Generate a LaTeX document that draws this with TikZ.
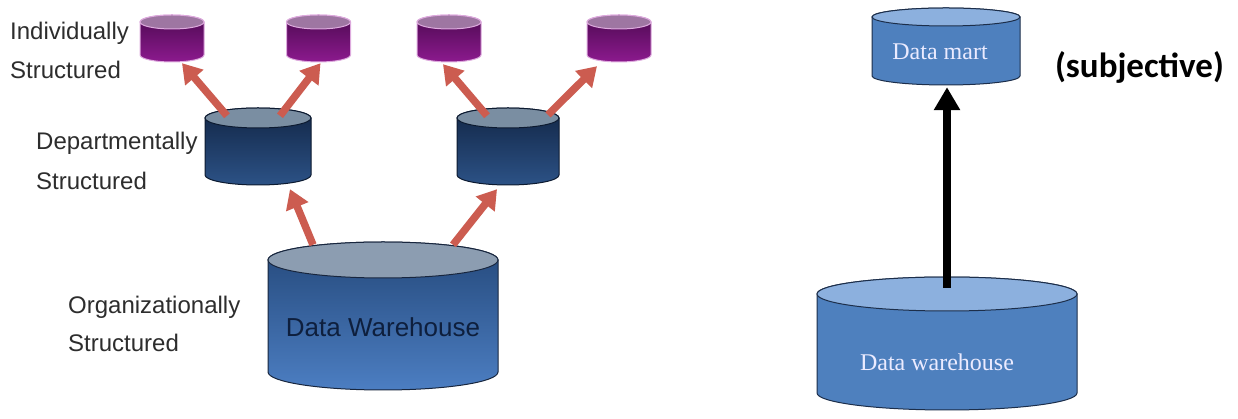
\documentclass[tikz,border=0pt]{standalone}
\usepackage{fontspec}
\setmainfont{Liberation Sans}
\newfontfamily\serifdm{Liberation Serif}
\newfontfamily\calib{Carlito}
\usetikzlibrary{arrows.meta,calc}

\definecolor{pbt}{RGB}{78,10,82}
\definecolor{pbb}{RGB}{140,26,142}
\definecolor{pend}{RGB}{158,118,162}
\definecolor{pout}{RGB}{222,170,222}
\definecolor{dbt}{RGB}{18,38,70}
\definecolor{dbb}{RGB}{44,82,134}
\definecolor{dend}{RGB}{122,142,162}
\definecolor{dout}{RGB}{12,26,48}
\definecolor{wbt}{RGB}{36,72,122}
\definecolor{wbb}{RGB}{76,126,194}
\definecolor{wend}{RGB}{140,157,177}
\definecolor{wout}{RGB}{24,38,62}
\definecolor{rbody}{RGB}{78,128,190}
\definecolor{rend}{RGB}{140,176,222}
\definecolor{rout}{RGB}{28,46,74}
\definecolor{arrred}{RGB}{204,92,80}
\definecolor{lbl}{RGB}{45,45,45}
\definecolor{dwtxt}{RGB}{14,31,61}

\newcommand\dbcyl[7]{%
  \path[#7body] ({#2-#4},{#3-#6}) -- ({#2-#4},{#5+#6})
    arc[start angle=180,end angle=360,x radius=#4,y radius=#6]
    -- ({#2+#4},{#3-#6})
    arc[start angle=0,end angle=180,x radius=#4,y radius=#6] -- cycle;
  \path[#7end] (#2,{#3-#6}) ellipse[x radius=#4,y radius=#6];
  \node[inner sep=0pt,minimum width={2*#4},minimum height={#3-#5}] (#1) at (#2,{(#3+#5)/2}) {};
}

\tikzset{
  purplebody/.style={top color=pbt,bottom color=pbb,draw=pout,line width=1pt},
  purpleend/.style={fill=pend,draw=pout,line width=1pt},
  deptbody/.style={top color=dbt,bottom color=dbb,draw=dout,line width=1pt},
  deptend/.style={fill=dend,draw=dout,line width=1pt},
  whbody/.style={top color=wbt,bottom color=wbb,draw=wout,line width=1pt},
  whend/.style={fill=wend,draw=wout,line width=1pt},
  rightbody/.style={fill=rbody,draw=rout,line width=1pt},
  rightend/.style={fill=rend,draw=rout,line width=1pt},
  redarr/.style={draw=arrred,line width=7.5pt,-{Triangle[width=23pt,length=19pt]}},
  blackarr/.style={draw=black,line width=8pt,-{Triangle[width=25pt,length=23pt]}},
  sidelbl/.style={anchor=west,text=lbl,font=\fontsize{24}{28}\selectfont,inner sep=0pt},
}

\begin{document}
\begin{tikzpicture}[x=1pt,y=1pt]
\useasboundingbox (0,0) rectangle (1238,419);
\fill[white] (0,0) rectangle (1238,419);

% individually structured
\dbcyl{c1}{172}{404}{32}{357}{7}{purple}
\dbcyl{c2}{318.5}{404}{32}{357}{7}{purple}
\dbcyl{c3}{449}{404}{32}{357}{7}{purple}
\dbcyl{c4}{619}{404}{32}{357}{7}{purple}
% departmental
\dbcyl{dept1}{258}{311}{53}{234}{10}{dept}
\dbcyl{dept2}{508}{311}{51}{234}{10}{dept}
% warehouse
\dbcyl{dw}{383}{177}{115}{29}{18}{wh}
\node[text=dwtxt,font=\fontsize{26}{30}\selectfont] (dwt) at (383,92) {Data Warehouse};

% right side
\dbcyl{rdm}{946}{411}{74}{334}{9}{right}
\dbcyl{rdw}{947}{142}{130}{9}{17}{right}
\node[text=white!92!blue,font=\serifdm\fontsize{24}{28}\selectfont] (rdmt) at (940,367) {Data mart};
\node[text=white!92!blue,font=\serifdm\fontsize{24}{28}\selectfont] (rdwt) at (937,57) {Data warehouse};
\node[font=\calib\bfseries\fontsize{35}{40}\selectfont] (subj) at (1139.5,352) {(subjective)};

% labels
\node[sidelbl] (l1) at (10,386) {Individually};
\node[sidelbl] (l2) at (10,349) {Structured};
\node[sidelbl] (l3) at (36,276) {Departmentally};
\node[sidelbl] (l4) at (36,238) {Structured};
\node[sidelbl] (l5) at (68,112) {Organizationally};
\node[sidelbl] (l6) at (68,76) {Structured};

% arrows
\draw[redarr] ($(dept1.north)+(-31,-8)$) -- ($(c1.south)+(10,-1)$);
\draw[redarr] ($(dept1.north)+(22,-8)$) -- ($(c2.south)+(2,-1)$);
\draw[redarr] ($(dept2.north)+(-21,-8)$) -- ($(c3.south)+(-6,-2)$);
\draw[redarr] ($(dept2.north)+(40,-7)$) -- ($(c4.south)+(-22,-4)$);
\draw[redarr] ($(dw.north)+(-70,-3)$) -- ($(dept1.south)+(32,-4)$);
\draw[redarr] ($(dw.north)+(70,-3)$) -- ($(dept2.south)+(-11,-4)$);
\draw[blackarr] ($(rdw.north)+(0,-11)$) -- ($(rdm.south)+(1,-2)$);
\end{tikzpicture}
\end{document}
